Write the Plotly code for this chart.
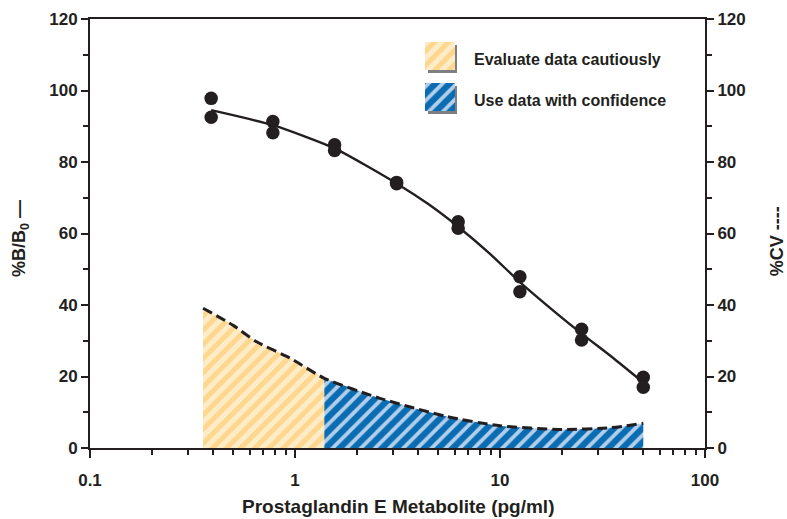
import plotly.graph_objects as go

# ---- data ----
conc = [0.39, 0.39, 0.78, 0.78, 1.56, 1.56, 3.13, 3.13, 6.25, 6.25, 12.5, 12.5, 25, 25, 50, 50]
pct_b_b0 = [97.8, 92.5, 91.3, 88.2, 84.8, 83.2, 74.3, 73.9, 63.3, 61.5, 47.9, 43.7, 33.2, 30.2, 19.8, 17.0]

curve_x = [0.39, 0.78, 1.56, 3.13, 4.45, 6.25, 8.94, 12.5, 17.7, 25, 35.4, 50]
curve_y = [94.5, 90.3, 83.8, 74.0, 68.3, 61.9, 54.3, 46.4, 39.0, 32.0, 25.3, 18.3]

cv_caution_x = [0.356, 0.5, 0.65, 0.95, 1.39]
cv_caution_y = [39.1, 34.3, 29.7, 25.1, 19.5]
cv_confident_x = [1.39, 2.6, 5.5, 10, 20, 35, 50]
cv_confident_y = [19.5, 13.9, 8.8, 6.2, 5.2, 5.7, 6.9]

legend_labels = ["Evaluate data cautiously", "Use data with confidence"]

INK = "#231f20"
YEL_BG, YEL_FG = "#feecc8", "#fed78e"
BLU_BG, BLU_FG = "#b4cfea", "#0a6db4"
FONT = "Liberation Sans, Arial, Helvetica, sans-serif"

fig = go.Figure()

# CV filled regions
fig.add_trace(go.Scatter(
    x=cv_caution_x, y=cv_caution_y, mode="lines", yaxis="y2",
    line=dict(width=0, shape="spline", smoothing=0.6), fill="tozeroy",
    fillcolor=YEL_BG,
    fillpattern=dict(shape="/", bgcolor=YEL_BG, fgcolor=YEL_FG, fgopacity=1, size=10, solidity=0.5),
    showlegend=False, hoverinfo="skip"))
fig.add_trace(go.Scatter(
    x=cv_confident_x, y=cv_confident_y, mode="lines", yaxis="y2",
    line=dict(width=0, shape="spline", smoothing=0.6), fill="tozeroy",
    fillcolor=BLU_BG,
    fillpattern=dict(shape="/", bgcolor=BLU_BG, fgcolor=BLU_FG, fgopacity=1, size=10, solidity=0.62),
    showlegend=False, hoverinfo="skip"))
# CV dashed line
fig.add_trace(go.Scatter(
    x=cv_caution_x + cv_confident_x[1:], y=cv_caution_y + cv_confident_y[1:],
    mode="lines", yaxis="y2",
    line=dict(color=INK, width=3, dash="10px,5px", shape="spline", smoothing=0.6),
    showlegend=False))

# standard curve
fig.add_trace(go.Scatter(
    x=curve_x, y=curve_y, mode="lines",
    line=dict(color=INK, width=2.4, shape="spline", smoothing=0.6),
    showlegend=False))
fig.add_trace(go.Scatter(
    x=conc, y=pct_b_b0, mode="markers",
    marker=dict(color=INK, size=13.5),
    showlegend=False))

# legend swatches (pixel-like helper axes)
sw = [(425, 42, YEL_BG, YEL_FG, 0.5), (425, 83, BLU_BG, BLU_FG, 0.62)]
for (x0, y0, bg, fg, sol), lab in zip(sw, legend_labels):
    fig.add_shape(type="rect", xref="x3", yref="y3", x0=x0 + 3, x1=x0 + 32, y0=y0 + 3, y1=y0 + 31,
                  fillcolor="#7d7f82", line=dict(width=0), layer="below")
    fig.add_trace(go.Scatter(
        x=[x0, x0 + 30, x0 + 30, x0, x0], y=[y0, y0, y0 + 28, y0 + 28, y0],
        xaxis="x3", yaxis="y3", mode="lines", line=dict(width=0),
        fill="toself", fillcolor=bg,
        fillpattern=dict(shape="/", bgcolor=bg, fgcolor=fg, fgopacity=1, size=10, solidity=sol),
        showlegend=False, hoverinfo="skip"))
    fig.add_annotation(xref="x3", yref="y3", x=x0 + 47, y=y0 + 17, text="<b>%s</b>" % lab,
                       showarrow=False, xanchor="left", yanchor="middle",
                       font=dict(family=FONT, size=16, color=INK))

tickfont = dict(family=FONT, size=17, color=INK, weight="bold")
minor_x = [0.2, 0.3, 0.4, 0.5, 0.6, 0.7, 0.8, 0.9, 2, 3, 4, 5, 6, 7, 8, 9,
           20, 30, 40, 50, 60, 70, 80, 90]

fig.update_layout(
    width=787, height=519,
    margin=dict(l=90, r=82, t=19, b=71),
    paper_bgcolor="white", plot_bgcolor="white",
    xaxis=dict(type="log", range=[-1, 2], tickvals=[0.1, 1, 10, 100],
               ticktext=["0.1", "1", "10", "100"],
               showline=True, linecolor=INK, linewidth=2, mirror=True,
               ticks="outside", ticklen=8, tickwidth=2, tickcolor=INK,
               ticklabelstandoff=8, automargin=False,
               minor=dict(tickvals=minor_x, ticks="outside", ticklen=5, tickwidth=1.5, tickcolor=INK),
               showgrid=False, zeroline=False, tickfont=tickfont),
    yaxis=dict(range=[0, 120], tickvals=[0, 20, 40, 60, 80, 100, 120], automargin=False,
               showline=True, linecolor=INK, linewidth=2,
               ticks="outside", ticklen=7, tickwidth=2, tickcolor=INK,
               minor=dict(dtick=10, ticks="outside", ticklen=5, tickwidth=1.5, tickcolor=INK),
               showgrid=False, zeroline=False, tickfont=tickfont),
    yaxis2=dict(range=[0, 120], overlaying="y", side="right", anchor="x", automargin=False,
                tickvals=[0, 20, 40, 60, 80, 100, 120],
                showline=True, linecolor=INK, linewidth=2,
                ticks="outside", ticklen=7, tickwidth=2, tickcolor=INK,
                minor=dict(dtick=10, ticks="outside", ticklen=5, tickwidth=1.5, tickcolor=INK),
                showgrid=False, zeroline=False, tickfont=tickfont),
    xaxis3=dict(domain=[0, 1], range=[90, 705], visible=False, anchor="y3", overlaying="x"),
    yaxis3=dict(domain=[0, 1], range=[448, 19], visible=False, anchor="x3", overlaying="y"),
)

fig.add_annotation(xref="paper", yref="paper", x=0.5, y=-0.1375, xanchor="center", yanchor="middle",
                   text="<b>Prostaglandin E Metabolite (pg/ml)</b>", showarrow=False,
                   font=dict(family=FONT, size=19, color=INK))
fig.add_annotation(xref="paper", yref="paper", x=-0.1138, y=0.487, xanchor="center", yanchor="middle",
                   text="<b>%B/B<sub>0</sub> —</b>",
                   textangle=-90, showarrow=False, font=dict(family=FONT, size=18, color=INK))
fig.add_annotation(xref="paper", yref="paper", x=1.117, y=0.482, xanchor="center", yanchor="middle",
                   text="<b>%CV ----</b>",
                   textangle=-90, showarrow=False, font=dict(family=FONT, size=18, color=INK))

fig.write_html("out.html")
